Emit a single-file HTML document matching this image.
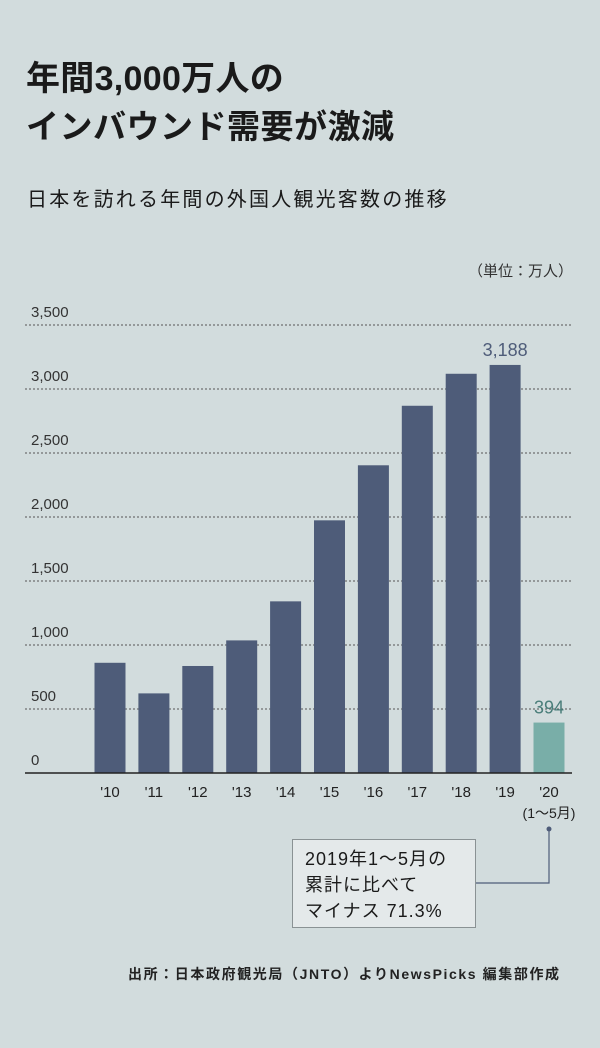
<!DOCTYPE html>
<html><head><meta charset="utf-8"><style>
html,body{margin:0;padding:0}
body{width:600px;height:1048px;background:#d2dcdd;position:relative;overflow:hidden;font-family:"Liberation Sans","Noto Sans CJK JP",sans-serif;color:#1a1a1a}
.t{position:absolute;white-space:nowrap}
</style></head><body>
<div class="t" style="left:26px;top:56px;font-size:34px;font-weight:bold;letter-spacing:0.3px;line-height:46px">年間3,000万人の</div>
<div class="t" style="left:26px;top:104px;font-size:33px;font-weight:bold;letter-spacing:0.5px;line-height:46px">インバウンド需要が激減</div>
<div class="t" style="left:27px;top:186px;font-size:20px;letter-spacing:2.2px;line-height:28px">日本を訪れる年間の外国人観光客数の推移</div>
<div class="t" style="left:468px;top:262px;font-size:15px;line-height:20px;color:#333">（単位：万人）</div>
<svg id="chart" width="600" height="1048" style="position:absolute;left:0;top:0"></svg>
<div class="t" style="left:292px;top:839px;width:184px;height:89px;background:#e4e9ea;border:1px solid #8a9294;box-sizing:border-box;padding:6px 0 0 12px;font-size:18px;line-height:26px;letter-spacing:1px;color:#1a1a1a">2019年1～5月の<br>累計に比べて<br>マイナス 71.3%</div>
<div class="t" style="left:128px;top:964px;font-size:14px;font-weight:bold;line-height:20px;letter-spacing:1.6px;color:#222">出所：日本政府観光局（JNTO）よりNewsPicks 編集部作成</div>
<script>
const categories=["'10","'11","'12","'13","'14","'15","'16","'17","'18","'19","'20"];
const values=[861,622,836,1036,1341,1974,2404,2869,3119,3188,394];
const tickValues=[0,500,1000,1500,2000,2500,3000,3500];
const tickLabels=["0","500","1,000","1,500","2,000","2,500","3,000","3,500"];
const labeledValues={9:"3,188",10:"394"};
const NS="http://www.w3.org/2000/svg";
const svg=document.getElementById('chart');
const y0=773,pxPer=64/500,x0=110,step=43.9,bw=31;
const y=v=>y0-v*pxPer;
const x=i=>x0+i*step;
function mk(tag,attrs,parent){const e=document.createElementNS(NS,tag);for(const k in attrs)e.setAttribute(k,attrs[k]);(parent||svg).appendChild(e);return e;}
tickValues.forEach((v,i)=>{
  if(v>0){const l=mk('line',{x1:25,x2:572,y1:y(v),y2:y(v),stroke:'#555',"stroke-width":1,"stroke-dasharray":"2,2"});
  
  }
  const t=mk('text',{x:31,y:y(v)-8,"font-size":15,fill:'#333',"font-family":'"Liberation Sans",sans-serif'});
  t.textContent=tickLabels[i];
  
  
});
values.forEach((v,i)=>{
  const r=mk('rect',{x:x(i)-bw/2,y:y(v),width:bw,height:v*pxPer,fill:i===10?'#79aea8':'#4e5c79'});
  
  
  const t=mk('text',{x:x(i),y:797,"font-size":15,fill:'#222',"text-anchor":'middle',"font-family":'"Liberation Sans",sans-serif'});
  t.textContent=categories[i];
  
  
  if(labeledValues[i]){
    const vl=mk('text',{x:x(i),y:y(v)-9,"font-size":18,fill:i===10?'#4a7e7a':'#4e5c79',"text-anchor":'middle',"font-family":'"Liberation Sans",sans-serif'});
    vl.textContent=labeledValues[i];
    
    
  }
});
const sub=mk('text',{x:x(10),y:818,"font-size":14,fill:'#222',"text-anchor":'middle',"font-family":'"Liberation Sans","Noto Sans CJK JP",sans-serif'});
sub.textContent='(1～5月)';


const base=mk('line',{x1:25,x2:572,y1:y0,y2:y0,stroke:'#222',"stroke-width":1.5});


const conn=mk('polyline',{points:`476,883 ${x(10)},883 ${x(10)},829`,fill:'none',stroke:'#4e5c79',"stroke-width":1.2});


const dot=mk('circle',{cx:x(10),cy:829,r:2.5,fill:'#4e5c79'});


</script>
</body></html>
